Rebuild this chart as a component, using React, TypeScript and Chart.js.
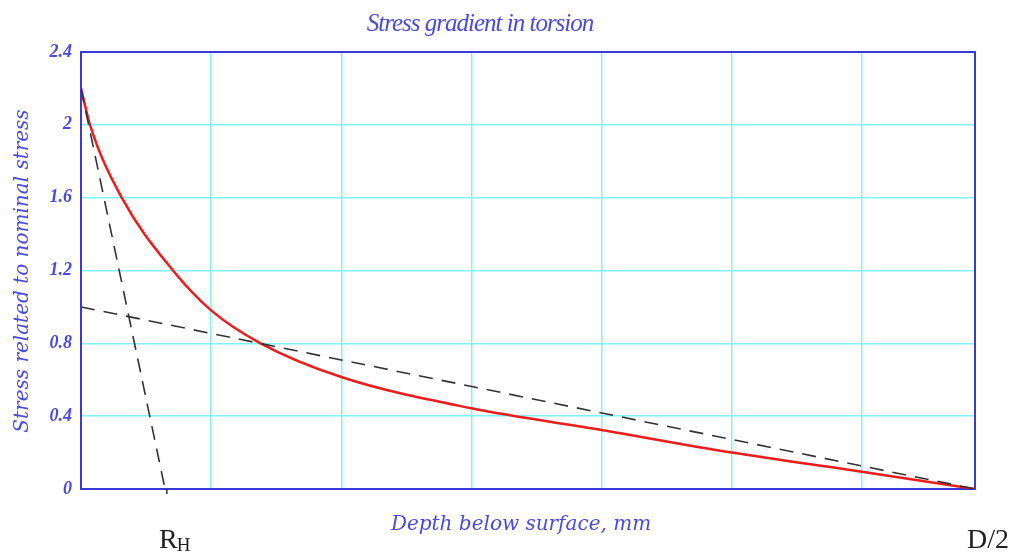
import React, { useEffect, useRef } from "react";
import { Chart, registerables } from "chart.js";

Chart.register(...registerables);

// Data (x in grid units from surface; D/2 at X_MAX)
const X_MAX = 6.87;
const R_H = 0.66;
const xGridTicks = [0, 1, 2, 3, 4, 5, 6, X_MAX];
const yTicks = [0, 0.4, 0.8, 1.2, 1.6, 2, 2.4];

const redX = [0, 0.069, 0.313, 0.707, 1.0, 1.38, 2, 3, 4, 5, 6, X_MAX];
const redY = [2.2, 2.0, 1.6, 1.2, 0.981, 0.8, 0.615, 0.443, 0.324, 0.2, 0.095, 0];

const steepX = [0, 0.64];
const steepY = [2.2, 0.02];

const shallowX = [0, X_MAX];
const shallowY = [1.0, 0];

const BLUE = "#3a3ad6";
const TEXT_BLUE = "#4a4ae0";
const CYAN = "#7ff4f8";

const toPts = (xs: number[], ys: number[]) => xs.map((x, i) => ({ x, y: ys[i] }));

const decorPlugin = {
  id: "decor",
  beforeDatasetsDraw(chart: any) {
    const { ctx, chartArea: a } = chart;
    ctx.save();
    ctx.strokeStyle = BLUE;
    ctx.lineWidth = 2;
    ctx.strokeRect(a.left, a.top, a.right - a.left, a.bottom - a.top);
    const xs = chart.scales.x;
    const px = xs.getPixelForValue(R_H);
    ctx.strokeStyle = "#333";
    ctx.lineWidth = 1.5;
    ctx.beginPath();
    ctx.moveTo(px, a.bottom);
    ctx.lineTo(px, a.bottom + 5);
    ctx.stroke();
    ctx.restore();
  },
  afterDraw(chart: any) {
    const { ctx } = chart;
    ctx.save();
    ctx.fillStyle = TEXT_BLUE;
    ctx.textAlign = "center";
    ctx.textBaseline = "alphabetic";
    ctx.font = "italic 25px 'Liberation Serif'";
    (ctx as any).letterSpacing = "-1px";
    ctx.fillText("Stress gradient in torsion", 480, 31);
    (ctx as any).letterSpacing = "0px";
    ctx.font = "italic 20px 'DejaVu Serif'";
    ctx.fillText("Depth below surface, mm", 521, 530);
    ctx.save();
    ctx.translate(28, 271);
    ctx.rotate(-Math.PI / 2);
    ctx.fillText("Stress related to nominal stress", 0, 0);
    ctx.restore();
    ctx.fillStyle = "#222";
    ctx.textAlign = "left";
    ctx.font = "28px 'Liberation Serif'";
    ctx.fillText("R", 159, 548);
    const rw = ctx.measureText("R").width;
    ctx.font = "19px 'Liberation Serif'";
    ctx.fillText("H", 159 + rw - 1, 551);
    ctx.font = "28px 'Liberation Serif'";
    ctx.fillText("D/2", 967, 548);
    ctx.restore();
  },
};

export default function App() {
  const ref = useRef<HTMLCanvasElement>(null);
  useEffect(() => {
    if (!ref.current) return;
    const chart = new Chart(ref.current, {
      type: "scatter",
      data: {
        datasets: [
          {
            data: toPts(shallowX, shallowY),
            showLine: true,
            borderColor: "#333",
            borderWidth: 1.6,
            borderDash: [14, 9],
            pointRadius: 0,
          },
          {
            data: toPts(steepX, steepY),
            showLine: true,
            borderColor: "#333",
            borderWidth: 1.6,
            borderDash: [14, 9],
            pointRadius: 0,
          },
          {
            data: toPts(redX, redY),
            showLine: true,
            borderColor: "#ee1c1c",
            borderWidth: 2.5,
            pointRadius: 0,
            cubicInterpolationMode: "monotone",
          },
        ],
      },
      options: {
        animation: false,
        responsive: false,
        events: [],
        layout: { padding: { left: 0, top: 52, right: 44, bottom: 0 } },
        plugins: { legend: { display: false }, tooltip: { enabled: false }, title: { display: false } },
        scales: {
          x: {
            type: "linear",
            min: 0,
            max: X_MAX,
            afterBuildTicks: (s: any) => {
              s.ticks = xGridTicks.map((v) => ({ value: v }));
            },
            afterFit: (s: any) => {
              s.height = 64;
            },
            ticks: { display: false },
            grid: { color: CYAN, lineWidth: 1.5, drawTicks: false },
            border: { display: false },
          },
          y: {
            type: "linear",
            min: 0,
            max: 2.4,
            afterBuildTicks: (s: any) => {
              s.ticks = yTicks.map((v) => ({ value: v }));
            },
            afterFit: (s: any) => {
              s.width = 81;
            },
            ticks: {
              color: TEXT_BLUE,
              padding: 9,
              font: { family: "'Liberation Serif'", style: "italic", weight: "bold", size: 18 },
              callback: (v: any) => String(Math.round(Number(v) * 10) / 10),
            },
            grid: { color: CYAN, lineWidth: 1.5, drawTicks: false },
            border: { display: false },
          },
        },
      },
      plugins: [decorPlugin],
    } as any);
    return () => chart.destroy();
  }, []);
  return (
    <div style={{ position: "fixed", left: 0, top: 0, width: 1019, height: 553, background: "#fff" }}>
      <canvas ref={ref} width={1019} height={553} />
    </div>
  );
}
